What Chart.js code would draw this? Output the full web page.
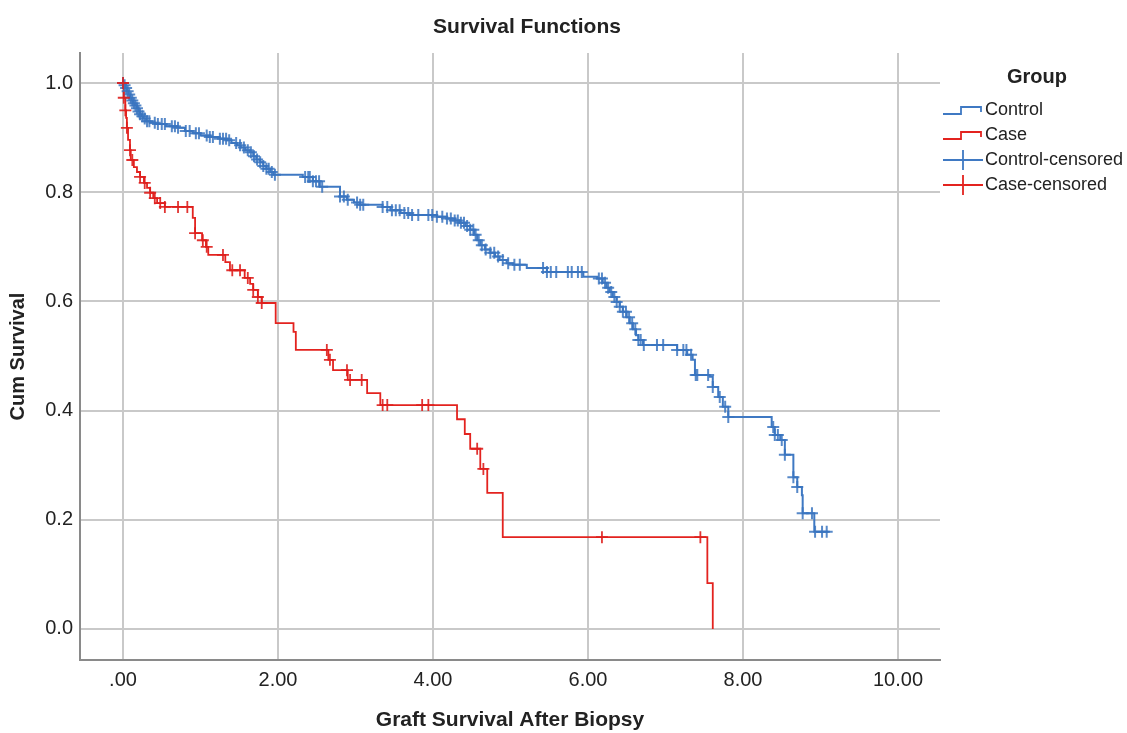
<!DOCTYPE html>
<html>
<head>
<meta charset="utf-8">
<title>Survival Functions</title>
<script src="https://cdn.jsdelivr.net/npm/chart.js@4/dist/chart.umd.min.js"></script>
<style>
  html, body { margin: 0; padding: 0; background: #fff; }
  #chart { display: block; }
</style>
</head>
<body>
<canvas id="chart" width="1127" height="733"></canvas>
<script>
// Kaplan-Meier steps: time of each drop and survival right after it
const controlTimes = [0, 0.01, 0.03, 0.05, 0.07, 0.09, 0.11, 0.13, 0.15, 0.18, 0.20, 0.22, 0.24, 0.26, 0.30, 0.35,
  0.42, 0.55, 0.70, 0.80, 0.90, 1.00, 1.12, 1.25, 1.34, 1.40, 1.47, 1.52, 1.58, 1.64, 1.68, 1.72, 1.77, 1.81, 1.85,
  1.90, 1.94, 2.32, 2.45, 2.54, 2.80, 2.89, 2.98, 3.06, 3.35, 3.45, 3.58, 3.70, 4.05, 4.18, 4.28, 4.35, 4.42, 4.48,
  4.53, 4.57, 4.61, 4.67, 4.74, 4.80, 4.86, 4.95, 5.03, 5.21, 5.47, 5.94, 6.12, 6.19, 6.24, 6.28, 6.32, 6.37, 6.41,
  6.45, 6.50, 6.54, 6.58, 6.62, 6.65, 6.71, 7.15, 7.28, 7.35, 7.38, 7.57, 7.61, 7.68, 7.74, 7.81, 8.37, 8.41, 8.48,
  8.54, 8.65, 8.70, 8.76, 8.77, 8.92, 9.12];
const controlSurv = [1.0, 0.996, 0.991, 0.985, 0.979, 0.973, 0.968, 0.963, 0.959, 0.954, 0.948, 0.943, 0.939, 0.935, 0.930, 0.927,
  0.925, 0.921, 0.918, 0.912, 0.908, 0.904, 0.901, 0.898, 0.895, 0.890, 0.886, 0.882, 0.877, 0.873, 0.866, 0.860, 0.855, 0.848, 0.843,
  0.837, 0.832, 0.828, 0.820, 0.810, 0.792, 0.786, 0.781, 0.777, 0.773, 0.767, 0.762, 0.758, 0.755, 0.752, 0.748, 0.744, 0.738, 0.731,
  0.722, 0.712, 0.703, 0.695, 0.689, 0.682, 0.676, 0.670, 0.667, 0.661, 0.654, 0.645, 0.642, 0.634, 0.625, 0.617, 0.608, 0.599, 0.590,
  0.581, 0.571, 0.560, 0.549, 0.538, 0.529, 0.520, 0.511, 0.502, 0.493, 0.465, 0.462, 0.443, 0.425, 0.407, 0.388, 0.370, 0.355, 0.346,
  0.319, 0.278, 0.260, 0.245, 0.212, 0.178, 0.178];

const caseTimes = [0, 0.01, 0.03, 0.04, 0.05, 0.065, 0.09, 0.10, 0.14, 0.18, 0.22, 0.27, 0.31, 0.35, 0.39, 0.44, 0.54,
  0.90, 0.93, 1.02, 1.07, 1.10, 1.32, 1.38, 1.57, 1.64, 1.68, 1.74, 1.79, 1.97, 2.20, 2.23, 2.65, 2.71, 2.90, 3.15,
  3.32, 4.31, 4.41, 4.48, 4.61, 4.70, 4.90, 7.54, 7.61];
const caseSurv = [1.0, 0.973, 0.950, 0.936, 0.918, 0.896, 0.877, 0.859, 0.846, 0.837, 0.828, 0.817, 0.808, 0.799, 0.789, 0.780, 0.773,
  0.753, 0.725, 0.712, 0.700, 0.685, 0.672, 0.657, 0.643, 0.632, 0.621, 0.608, 0.597, 0.560, 0.544, 0.511, 0.493, 0.474, 0.456, 0.432,
  0.410, 0.384, 0.357, 0.330, 0.293, 0.249, 0.168, 0.084, 0.0];

// censored observation times
const controlCensored = [0.00, 0.02, 0.04, 0.06, 0.08, 0.10, 0.12, 0.14, 0.16, 0.18, 0.20, 0.22, 0.25, 0.28, 0.31, 0.34,
  0.41, 0.45, 0.50, 0.54, 0.63, 0.67, 0.71, 0.81, 0.86, 0.94, 0.98, 1.08, 1.12, 1.16, 1.25, 1.29, 1.33, 1.37, 1.46,
  1.51, 1.56, 1.61, 1.65, 1.69, 1.73, 1.77, 1.81, 1.85, 1.88, 1.92, 1.96, 2.35, 2.39, 2.41, 2.45, 2.49, 2.53, 2.57,
  2.80, 2.85, 2.90, 3.02, 3.06, 3.10, 3.35, 3.41, 3.47, 3.52, 3.57, 3.63, 3.68, 3.73, 3.81, 3.94, 3.99, 4.05, 4.12,
  4.18, 4.23, 4.28, 4.32, 4.36, 4.40, 4.44, 4.48, 4.52, 4.55, 4.59, 4.63, 4.68, 4.74, 4.79, 4.84, 4.90, 4.97, 5.05,
  5.12, 5.42, 5.47, 5.52, 5.59, 5.74, 5.79, 5.87, 5.92, 6.14, 6.18, 6.22, 6.26, 6.30, 6.34, 6.37, 6.41, 6.45, 6.49,
  6.53, 6.57, 6.61, 6.65, 6.68, 6.72, 6.89, 6.97, 7.15, 7.23, 7.27, 7.33, 7.39, 7.41, 7.55, 7.61, 7.70, 7.77, 7.81,
  8.39, 8.41, 8.45, 8.50, 8.54, 8.65, 8.70, 8.77, 8.89, 8.93, 9.02, 9.08];
const caseCensored = [0.00, 0.01, 0.03, 0.05, 0.09, 0.12, 0.22, 0.28, 0.35, 0.41, 0.48, 0.54, 0.71, 0.83, 0.93, 1.03,
  1.08, 1.29, 1.41, 1.51, 1.61, 1.68, 1.74, 1.79, 2.63, 2.67, 2.89, 2.93, 3.08, 3.35, 3.41, 3.86, 3.94, 4.57, 4.65,
  6.18, 7.45];

const xTicks = [0, 2, 4, 6, 8, 10];
const xTickLabels = ['.00', '2.00', '4.00', '6.00', '8.00', '10.00'];
const yTicks = [0, 0.2, 0.4, 0.6, 0.8, 1.0];
const yTickLabels = ['0.0', '0.2', '0.4', '0.6', '0.8', '1.0'];

const groups = ['Control', 'Case', 'Control-censored', 'Case-censored'];

const BLUE = '#3f79c3';
const BLUE_MARK = 'rgba(58,116,192,0.85)';
const RED = '#e3231f';
const RED_MARK = 'rgba(222,30,28,0.9)';
const FONT = '"Liberation Sans", Arial, sans-serif';

function survivalAt(times, surv, t) {
  let s = surv[0];
  for (let i = 0; i < times.length; i++) {
    if (times[i] <= t) s = surv[i];
  }
  return s;
}

function stepPoints(times, surv) {
  return times.map((t, i) => ({ x: t, y: surv[i] }));
}

function censorPoints(censored, times, surv) {
  return censored.map(t => ({ x: t, y: survivalAt(times, surv, t) }));
}

// title and legend drawn on the canvas next to the plot
const decorations = {
  id: 'decorations',
  afterDraw(chart) {
    const ctx = chart.ctx;
    ctx.save();
    ctx.fillStyle = '#222';
    ctx.textBaseline = 'middle';
    ctx.textAlign = 'center';
    ctx.font = 'bold 21px ' + FONT;
    ctx.fillText('Survival Functions', 527, 27);

    ctx.font = 'bold 20px ' + FONT;
    ctx.fillText('Group', 1037, 77);

    const rowY = [110, 135, 160, 185];
    const colors = [BLUE, RED, BLUE, RED];
    ctx.textAlign = 'left';
    ctx.font = '18px ' + FONT;
    groups.forEach((name, i) => {
      const y = rowY[i];
      ctx.strokeStyle = colors[i];
      ctx.lineWidth = 1.8;
      ctx.beginPath();
      if (i < 2) {
        ctx.moveTo(943, y + 4);
        ctx.lineTo(961, y + 4);
        ctx.lineTo(961, y - 3);
        ctx.lineTo(981, y - 3);
        ctx.lineTo(981, y + 2);
      } else {
        ctx.moveTo(943, y);
        ctx.lineTo(983, y);
        ctx.moveTo(963, y - 10);
        ctx.lineTo(963, y + 10);
      }
      ctx.stroke();
      ctx.fillStyle = '#222';
      ctx.fillText(name, 985, y);
    });
    ctx.restore();
  }
};

new Chart(document.getElementById('chart'), {
  type: 'scatter',
  data: {
    datasets: [
      {
        label: groups[2],
        data: censorPoints(controlCensored, controlTimes, controlSurv),
        pointStyle: 'cross',
        pointRadius: 6,
        borderColor: BLUE_MARK,
        borderWidth: 2,
        order: 1
      },
      {
        label: groups[3],
        data: censorPoints(caseCensored, caseTimes, caseSurv),
        pointStyle: 'cross',
        pointRadius: 6,
        borderColor: RED_MARK,
        borderWidth: 1.8,
        order: 0
      },
      {
        label: groups[0],
        data: stepPoints(controlTimes, controlSurv),
        showLine: true,
        stepped: true,
        borderColor: BLUE,
        borderWidth: 2,
        pointRadius: 0,
        order: 3
      },
      {
        label: groups[1],
        data: stepPoints(caseTimes, caseSurv),
        showLine: true,
        stepped: true,
        borderColor: RED,
        borderWidth: 1.8,
        pointRadius: 0,
        order: 2
      }
    ]
  },
  options: {
    responsive: false,
    animation: false,
    layout: { padding: { top: 53, right: 187, left: 0, bottom: 0 } },
    plugins: {
      legend: { display: false },
      title: { display: false },
      tooltip: { enabled: false }
    },
    scales: {
      x: {
        type: 'linear',
        min: -0.555,
        max: 10.542,
        afterFit: s => { s.height = 73; },
        afterBuildTicks: s => { s.ticks = xTicks.map(v => ({ value: v })); },
        grid: { color: '#c9c9c9', lineWidth: 2, drawTicks: false },
        border: { display: true, color: '#8a8a8a', width: 2 },
        ticks: {
          padding: 8,
          color: '#222',
          font: { family: FONT, size: 20 },
          callback: (v, i) => xTickLabels[i]
        },
        title: {
          display: true,
          text: 'Graft Survival After Biopsy',
          color: '#222',
          font: { family: FONT, size: 21, weight: 'bold' },
          padding: 0
        }
      },
      y: {
        type: 'linear',
        min: -0.057,
        max: 1.055,
        afterFit: s => { s.width = 80; },
        afterBuildTicks: s => { s.ticks = yTicks.map(v => ({ value: v })); },
        grid: { color: '#c9c9c9', lineWidth: 2, drawTicks: false },
        border: { display: true, color: '#8a8a8a', width: 2 },
        ticks: {
          padding: 7,
          color: '#222',
          font: { family: FONT, size: 20 },
          callback: (v, i) => yTickLabels[i]
        },
        title: {
          display: true,
          text: 'Cum Survival',
          color: '#222',
          font: { family: FONT, size: 20, weight: 'bold' },
          padding: { top: 6, bottom: 0 }
        }
      }
    }
  },
  plugins: [decorations]
});
</script>
</body>
</html>
